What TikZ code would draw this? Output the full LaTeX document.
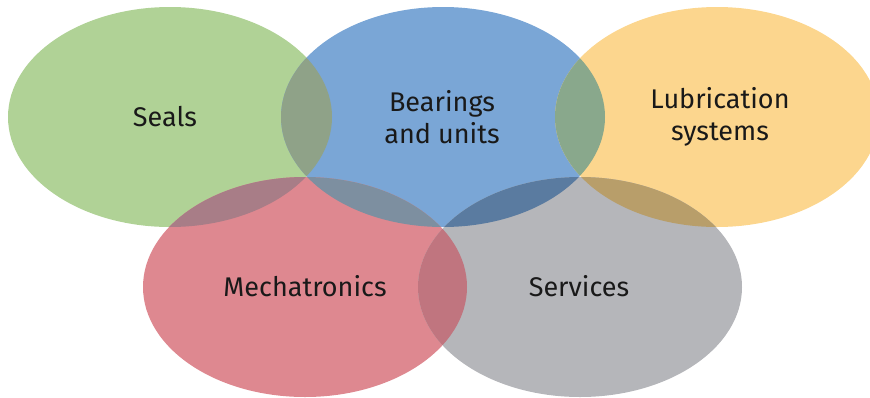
\documentclass[tikz,border=0pt]{standalone}
\usepackage{fontspec}
\setmainfont{Fira Sans}
\definecolor{cgreen}{RGB}{176,210,150}
\definecolor{cblue}{RGB}{122,166,214}
\definecolor{cyellow}{RGB}{252,214,142}
\definecolor{cred}{RGB}{222,136,144}
\definecolor{cgray}{RGB}{181,182,186}
\definecolor{oGB}{RGB}{143,162,136}
\definecolor{oBY}{RGB}{137,168,140}
\definecolor{oGR}{RGB}{168,125,135}
\definecolor{oBR}{RGB}{125,143,160}
\definecolor{oBS}{RGB}{90,123,160}
\definecolor{oYS}{RGB}{184,158,106}
\definecolor{oRS}{RGB}{192,117,127}
\definecolor{txt}{RGB}{25,25,25}
\begin{document}
\begin{tikzpicture}[x=1pt,y=-1pt,
  lbl/.style={text=txt,font=\fontsize{27}{32}\selectfont,align=center,inner sep=0pt}]
\useasboundingbox (0,0) rectangle (870,397);
\clip (0,0) rectangle (870,397);
\def\rx{162}\def\ry{110}
\coordinate (cS) at (170,117);
\coordinate (cB) at (443,117);
\coordinate (cL) at (717,117);
\coordinate (cM) at (305,287);
\coordinate (cV) at (580,287);
% base ellipses
\fill[cgreen] (cS) ellipse [x radius=\rx, y radius=\ry];
\fill[cblue] (cB) ellipse [x radius=\rx, y radius=\ry];
\fill[cyellow] (cL) ellipse [x radius=\rx, y radius=\ry];
\fill[cred] (cM) ellipse [x radius=\rx, y radius=\ry];
\fill[cgray] (cV) ellipse [x radius=\rx, y radius=\ry];
% overlaps
\begin{scope}\clip (cS) ellipse [x radius=\rx, y radius=\ry];
  \fill[oGB] (cB) ellipse [x radius=\rx, y radius=\ry];\end{scope}
\begin{scope}\clip (cB) ellipse [x radius=\rx, y radius=\ry];
  \fill[oBY] (cL) ellipse [x radius=\rx, y radius=\ry];\end{scope}
\begin{scope}\clip (cS) ellipse [x radius=\rx, y radius=\ry];
  \fill[oGR] (cM) ellipse [x radius=\rx, y radius=\ry];\end{scope}
\begin{scope}\clip (cB) ellipse [x radius=\rx, y radius=\ry];
  \fill[oBR] (cM) ellipse [x radius=\rx, y radius=\ry];\end{scope}
\begin{scope}\clip (cB) ellipse [x radius=\rx, y radius=\ry];
  \fill[oBS] (cV) ellipse [x radius=\rx, y radius=\ry];\end{scope}
\begin{scope}\clip (cL) ellipse [x radius=\rx, y radius=\ry];
  \fill[oYS] (cV) ellipse [x radius=\rx, y radius=\ry];\end{scope}
\begin{scope}\clip (cM) ellipse [x radius=\rx, y radius=\ry];
  \fill[oRS] (cV) ellipse [x radius=\rx, y radius=\ry];\end{scope}
% labels
\node[lbl] (seals) at (165,117) {Seals};
\node[lbl] (bear) at (442,117) {Bearings\\and units};
\node[lbl] (lub) at (720,117) {Lubrication\\systems};
\node[lbl] (mech) at (305,286) {Mechatronics};
\node[lbl] (serv) at (579,286) {Services};
\end{tikzpicture}
\end{document}
